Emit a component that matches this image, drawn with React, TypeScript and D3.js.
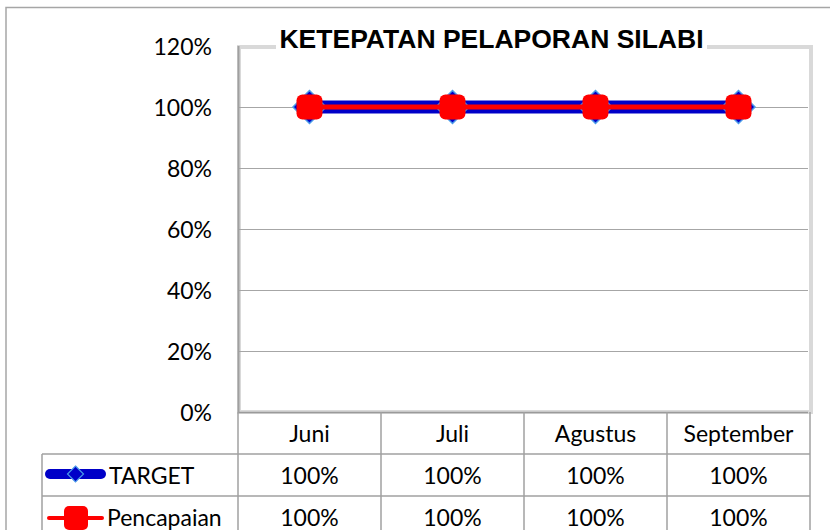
import React from "react";
import * as d3 from "d3";

const categories = ["Juni", "Juli", "Agustus", "September"];
const targetValues = [1, 1, 1, 1];
const pencapaianValues = [1, 1, 1, 1];
const yTicks = [0, 0.2, 0.4, 0.6, 0.8, 1.0, 1.2];
const seriesNames = ["TARGET", "Pencapaian"];
const title = "KETEPATAN PELAPORAN SILABI";

const W = 830;
const H = 530;
const plotL = 238;
const plotR = 810;
const plotT = 46;
const plotB = 412;
const rowH = 42;
const legendL = 42;
const FONT = "Lato, 'Open Sans', sans-serif";

export default function App() {
  const x = d3.scaleBand<string>().domain(categories).range([plotL, plotR]);
  const y = d3.scaleLinear().domain([0, 1.2]).range([plotB, plotT]);
  const cx = (c: string) => (x(c) as number) + x.bandwidth() / 2;
  const pct = d3.format(".0%");
  const line = d3
    .line<number>()
    .x((_, i) => cx(categories[i]))
    .y((v) => y(v));

  const diamond = (px: number, py: number, r: number) =>
    `M${px},${py - r}L${px + r},${py}L${px},${py + r}L${px - r},${py}Z`;

  const headerTop = plotB;
  const row1Top = plotB + rowH;
  const row2Top = plotB + 2 * rowH;
  const rowsBottom = plotB + 3 * rowH;

  return (
    <svg
      width={W}
      height={H}
      style={{ position: "absolute", left: 0, top: 0, background: "#fff" }}
    >
      {/* outer chart border */}
      <path d={`M6,${H}V7.5H${W}`} fill="none" stroke="#a6a6a6" strokeWidth={1.5} />

      {/* plot frame */}
      <rect
        x={plotL + 1}
        y={plotT + 1}
        width={plotR - plotL}
        height={plotB - plotT - 1}
        fill="none"
        stroke="#d9d9d9"
        strokeWidth={4}
      />
      {/* gridlines */}
      {yTicks.map((t) => (
        <line
          key={"g" + t}
          x1={plotL}
          x2={plotR - 2}
          y1={Math.round(y(t)) + 0.5}
          y2={Math.round(y(t)) + 0.5}
          stroke={t === 0 ? "#9a9a9a" : "#a6a6a6"}
          strokeWidth={t === 0 ? 1.5 : 1}
          opacity={t === 1.2 ? 0 : 1}
        />
      ))}
      {/* left axis line */}
      <line x1={plotL + 0.5} x2={plotL + 0.5} y1={plotT} y2={plotB} stroke="#a0a0a0" strokeWidth={2} />

      {/* y tick labels */}
      {yTicks.map((t) => (
        <text
          key={"yl" + t}
          x={212}
          y={y(t)}
          textAnchor="end"
          dominantBaseline="central"
          fontFamily={FONT}
          fontSize={23}
          fill="#000"
        >
          {pct(t)}
        </text>
      ))}

      {/* title with white background */}
      <rect x={276} y={24} width={431} height={26} fill="#fff" />
      <text
        x={(276 + 707) / 2}
        y={48}
        textAnchor="middle"
        fontFamily="'Liberation Sans', Arial, sans-serif"
        fontWeight="bold"
        fontSize={26.5}
        fill="#000"
      >
        {title}
      </text>

      {/* TARGET series */}
      <path d={line(targetValues) || ""} fill="none" stroke="#0000c8" strokeWidth={13} />
      {targetValues.map((v, i) => (
        <path
          key={"td" + i}
          d={diamond(cx(categories[i]), y(v), 16.5)}
          fill="#0000c8"
          stroke="#4a9ae8"
          strokeWidth={1.5}
        />
      ))}
      {/* Pencapaian series */}
      <path d={line(pencapaianValues) || ""} fill="none" stroke="#ff0000" strokeWidth={5} />
      {pencapaianValues.map((v, i) => (
        <rect
          key={"pr" + i}
          x={cx(categories[i]) - 13}
          y={y(v) - 12.5}
          width={26}
          height={25}
          rx={6}
          fill="#ff0000"
        />
      ))}

      {/* data table grid */}
      {/* horizontal lines */}
      <line x1={legendL} x2={plotR} y1={row1Top} y2={row1Top} stroke="#a0a0a0" strokeWidth={1.5} />
      <line x1={legendL} x2={plotR} y1={row2Top} y2={row2Top} stroke="#a0a0a0" strokeWidth={1.5} />
      <line x1={legendL} x2={plotR} y1={rowsBottom} y2={rowsBottom} stroke="#a0a0a0" strokeWidth={1.5} />
      {/* vertical lines */}
      <line x1={legendL} x2={legendL} y1={row1Top} y2={rowsBottom} stroke="#a0a0a0" strokeWidth={1.5} />
      {categories.map((c) => (
        <line
          key={"v" + c}
          x1={(x(c) as number)}
          x2={(x(c) as number)}
          y1={headerTop}
          y2={rowsBottom}
          stroke="#a0a0a0"
          strokeWidth={1.5}
        />
      ))}
      <line x1={plotR} x2={plotR} y1={headerTop} y2={rowsBottom} stroke="#a0a0a0" strokeWidth={1.5} />

      {/* header labels */}
      {categories.map((c) => (
        <text
          key={"h" + c}
          x={cx(c)}
          y={headerTop + rowH / 2}
          textAnchor="middle"
          dominantBaseline="central"
          fontFamily={FONT}
          fontSize={23}
          fill="#000"
        >
          {c}
        </text>
      ))}
      {/* values */}
      {[targetValues, pencapaianValues].map((vals, r) =>
        vals.map((v, i) => (
          <text
            key={"c" + r + i}
            x={cx(categories[i])}
            y={row1Top + r * rowH + rowH / 2}
            textAnchor="middle"
            dominantBaseline="central"
            fontFamily={FONT}
            fontSize={23}
            fill="#000"
          >
            {pct(v)}
          </text>
        ))
      )}

      {/* legend keys */}
      <line x1={50} x2={101} y1={row1Top + rowH / 2 - 1} y2={row1Top + rowH / 2 - 1} stroke="#0000c8" strokeWidth={10} strokeLinecap="round" />
      <path d={diamond(75.5, row1Top + rowH / 2 - 1, 8)} fill="#0000c8" stroke="#4a9ae8" strokeWidth={1.2} />
      <text x={109} y={row1Top + rowH / 2} dominantBaseline="central" fontFamily={FONT} fontSize={23} fill="#000">
        {seriesNames[0]}
      </text>

      <line x1={49} x2={102} y1={row2Top + rowH / 2 + 1} y2={row2Top + rowH / 2 + 1} stroke="#ff0000" strokeWidth={4} strokeLinecap="round" />
      <rect x={64} y={row2Top + rowH / 2 - 11} width={24} height={24} rx={5} fill="#ff0000" />
      <text x={107} y={row2Top + rowH / 2} dominantBaseline="central" fontFamily={FONT} fontSize={23} fill="#000">
        {seriesNames[1]}
      </text>
    </svg>
  );
}
